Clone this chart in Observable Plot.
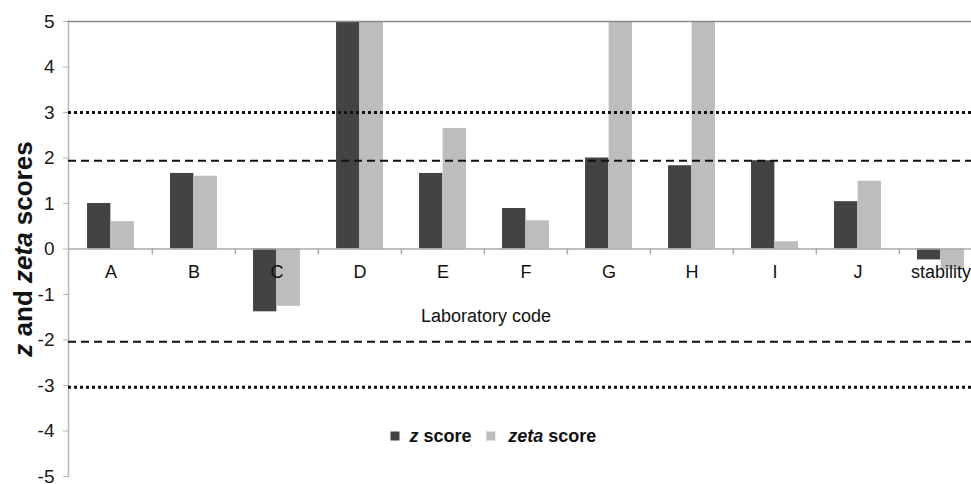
<!DOCTYPE html>
<html><head><meta charset="utf-8">
<script src="https://cdn.jsdelivr.net/npm/d3@7"></script>
<script src="https://cdn.jsdelivr.net/npm/@observablehq/plot@0.6"></script>
<style>
body{margin:0;background:#fff;}
#chart svg{display:block;overflow:visible}
</style>
</head><body><div id="chart"></div>
<script>
// ---- data ----
const categories = ["A","B","C","D","E","F","G","H","I","J","stability"];
const zScores    = [1.00, 1.66, -1.38, 5.00, 1.66, 0.89, 2.00, 1.83, 1.94, 1.04, -0.24];
const zetaScores = [0.60, 1.60, -1.26, 5.00, 2.65, 0.62, 5.00, 5.00, 0.16, 1.49, -0.45];
const yTicks = [-5,-4,-3,-2,-1,0,1,2,3,4,5];
const dottedLimits = [3, -3.04];
const dashedLimits = [1.94, -2.04];
const seriesNames = ["z score", "zeta score"];
const xLabel = "Laboratory code";
// rich-text segments: [text, italic]
const yLabelParts = [["z",true],[" and ",false],["zeta",true],[" scores",false]];
const legendParts = [
  [["z",true],[" score",false]],
  [["zeta",true],[" score",false]]
];

// ---- styling ----
const dark = "#434343", light = "#bdbdbd";
const W = 971, H = 484, mL = 68, mT = 21, mB = 8;
const bw = 916 / categories.length;
const barW = 23.6;
const font = "'Liberation Sans', Arial, Helvetica, sans-serif";

const data = categories.map((c, i) => ({lab: c, z: zScores[i], zeta: zetaScores[i]}));

const legendY = 435.5 - mT;
const plot = Plot.plot({
  width: W, height: H,
  marginLeft: mL, marginRight: 0, marginTop: mT, marginBottom: mB,
  style: {fontFamily: font, background: "#fff", overflow: "visible"},
  x: {type: "band", domain: categories, range: [mL, mL + bw * categories.length], padding: 0, axis: null},
  y: {domain: [-5, 5], axis: null},
  marks: [
    Plot.barY(data, {x: "lab", y: "z", fill: dark, insetLeft: bw/2 - barW, insetRight: bw/2, clip: true}),
    Plot.barY(data, {x: "lab", y: "zeta", fill: light, insetLeft: bw/2, insetRight: bw/2 - barW, clip: true}),
    Plot.ruleY([0], {stroke: "#a8a8a8", strokeWidth: 1.5}),
    Plot.ruleX(categories.slice(1), {x: d => d, y1: 0, y2: -0.13, dx: -bw/2, stroke: "#a8a8a8", strokeWidth: 1.5}),
    Plot.frame({anchor: "left", stroke: "#b5b5b5", strokeWidth: 1.5}),
    Plot.frame({anchor: "top", stroke: "#8a8a8a", strokeWidth: 1.5}),
    Plot.axisY(yTicks, {tickSize: 5, tickPadding: 9, stroke: "#b5b5b5", fill: "#1a1a1a", fontSize: 19, label: null, tickFormat: d => String(d)}),
    Plot.ruleY(dottedLimits, {stroke: "#111", strokeWidth: 3, strokeDasharray: "3,3"}),
    Plot.ruleY(dashedLimits, {stroke: "#111", strokeWidth: 2, strokeDasharray: "8,5"}),
    Plot.text(categories, {x: d => d, y: 0, dy: 23, fontSize: 18, fill: "#111"}),
    Plot.text([xLabel], {frameAnchor: "top-left", dx: 485.5 - mL, dy: 316 - mT, textAnchor: "middle", lineAnchor: "middle", fontSize: 18, fill: "#111"}),
    Plot.text([yLabelParts.map(p => p[0]).join("")], {frameAnchor: "left", dx: 23 - mL, rotate: -90, textAnchor: "middle", lineAnchor: "middle", fontSize: 26, fontWeight: "bold", fill: "#111"}),
    Plot.dot([seriesNames[0]], {frameAnchor: "top-left", dx: 394.5 - mL, dy: legendY, symbol: "square", r: 5.1, fill: dark}),
    Plot.dot([seriesNames[1]], {frameAnchor: "top-left", dx: 490.3 - mL, dy: legendY, symbol: "square", r: 5.1, fill: light}),
    Plot.text([seriesNames[0]], {frameAnchor: "top-left", dx: 409 - mL, dy: legendY, textAnchor: "start", lineAnchor: "middle", fontSize: 18, fontWeight: "bold", fill: "#111"}),
    Plot.text([seriesNames[1]], {frameAnchor: "top-left", dx: 507.7 - mL, dy: legendY, textAnchor: "start", lineAnchor: "middle", fontSize: 18, fontWeight: "bold", fill: "#111"})
  ]
});

// convert selected labels to mixed italic text
function rich(parts) {
  const full = parts.map(p => p[0]).join("");
  d3.select(plot).selectAll("text").filter(function() { return this.textContent === full; }).each(function() {
    const t = d3.select(this);
    t.text(null);
    parts.forEach(([s, it]) => {
      t.append("tspan").attr("font-style", it ? "italic" : "normal").text(s);
    });
  });
}
rich(yLabelParts);
legendParts.forEach(rich);

document.getElementById("chart").appendChild(plot);
</script>
</body></html>
